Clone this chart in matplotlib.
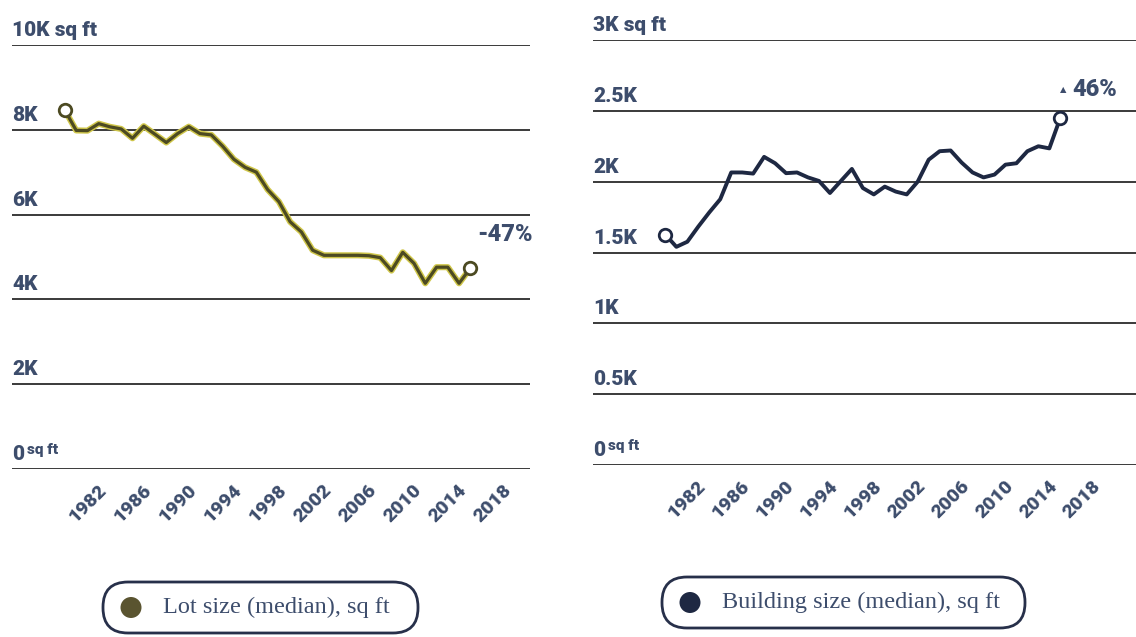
# Lot size vs building size, two small line panels side by side
import matplotlib
matplotlib.use('Agg')
import matplotlib.pyplot as plt
from matplotlib.patches import FancyBboxPatch, Circle
from matplotlib.transforms import offset_copy

years = list(range(1980, 2017))

lot_size = [8460, 7985, 7980, 8145, 8070, 8020, 7800, 8085, 7895, 7700,
            7910, 8075, 7910, 7880, 7615, 7305, 7115, 7000, 6590, 6305,
            5830, 5590, 5160, 5040, 5040, 5040, 5040, 5030, 4985, 4680,
            5110, 4850, 4380, 4760, 4760, 4380, 4735]

building_size = [1626, 1540, 1576, 1683, 1783, 1876, 2065, 2065, 2057, 2175,
                 2130, 2060, 2065, 2030, 2005, 1920, 2005, 2090, 1955, 1910,
                 1965, 1930, 1910, 2000, 2155, 2215, 2220, 2135, 2065, 2030,
                 2050, 2120, 2130, 2215, 2250, 2235, 2450]

lot_ticks = [0, 2000, 4000, 6000, 8000, 10000]
lot_tick_labels = ['0', '2K', '4K', '6K', '8K', '10K']
building_ticks = [0, 500, 1000, 1500, 2000, 2500, 3000]
building_tick_labels = ['0', '0.5K', '1K', '1.5K', '2K', '2.5K', '3K']
year_ticks = list(range(1982, 2019, 4))

lot_change = '-47%'
building_change = '46%'
lot_legend = 'Lot size (median), sq ft'
building_legend = 'Building size (median), sq ft'

TEXT = '#3d4d6c'
GRID = '#3a3a3a'
LOT_DARK = '#4c4a22'
LOT_EDGE = '#cfc64a'
BUILDING = '#1e2842'
BOLD_FONT = ['Roboto', 'DejaVu Sans']
SERIF_FONT = ['Liberation Serif', 'DejaVu Serif']
BOLD = 'heavy'

fig = plt.figure(figsize=(11.36, 6.37), dpi=100)
fig.patch.set_facecolor('white')


def setup_panel(ax, ticks, labels, xlim):
    ax.set_xlim(*xlim)
    ax.set_ylim(ticks[0], ticks[-1])
    for s in ax.spines.values():
        s.set_visible(False)
    ax.set_yticks([])
    for t in ticks:
        ax.axhline(t, color=GRID, lw=1.4, zorder=1)

    # tick labels sit on top of each gridline, left aligned
    trans = offset_copy(ax.get_yaxis_transform(), fig=fig, x=0, y=5, units='dots')
    for t, lab in zip(ticks, labels):
        txt = lab + ' sq ft' if t == ticks[-1] else lab
        ax.text(0, t, txt, transform=trans, ha='left', va='bottom',
                fontsize=15, fontweight=BOLD, color=TEXT, family=BOLD_FONT)
    unit = offset_copy(ax.get_yaxis_transform(), fig=fig, x=15, y=12, units='dots')
    ax.text(0, ticks[0], 'sq ft', transform=unit, ha='left', va='bottom',
            fontsize=11, fontweight=BOLD, color=TEXT, family=BOLD_FONT)

    ax.set_xticks(year_ticks)
    ax.set_xticklabels([str(y) for y in year_ticks], rotation=45, ha='center',
                       fontsize=14, fontweight=BOLD, color=TEXT, family=BOLD_FONT)
    ax.tick_params(axis='x', length=0, pad=9)


def legend_pill(x, y, w, h, dot_color, label):
    pill = FancyBboxPatch((x, y), w, h, boxstyle='round,pad=0,rounding_size=0.25',
                          transform=fig.dpi_scale_trans, fill=False,
                          edgecolor='#27304a', lw=2)
    fig.add_artist(pill)
    fig.add_artist(Circle((x + 0.28, y + h / 2), 0.105, transform=fig.dpi_scale_trans,
                          facecolor=dot_color, edgecolor='none'))
    fig.text(x + 0.6, y + h / 2, label, transform=fig.dpi_scale_trans,
             ha='left', va='center', fontsize=17.5, color=TEXT, family=SERIF_FONT)


# left panel: lot size
ax1 = fig.add_axes([12 / 1136, 1 - 469 / 637, 518 / 1136, 424 / 637])
setup_panel(ax1, lot_ticks, lot_tick_labels, (1975.3, 2021.3))
ax1.plot(years, lot_size, color=LOT_EDGE, lw=4.4, zorder=3, solid_joinstyle='round')
ax1.plot(years, lot_size, color=LOT_DARK, lw=2.3, zorder=4, solid_joinstyle='round')
ax1.plot([years[0], years[-1]], [lot_size[0], lot_size[-1]], 'o', ms=9,
         mfc='white', mec=LOT_DARK, mew=2, zorder=5)
ax1.annotate(lot_change, (years[-1], lot_size[-1]), xytext=(7, 34),
             textcoords='offset pixels', ha='left', va='center',
             fontsize=17, fontweight=BOLD, color=TEXT, family=BOLD_FONT)

# right panel: building size
ax2 = fig.add_axes([593 / 1136, 1 - 465 / 637, 543 / 1136, 425 / 637])
setup_panel(ax2, building_ticks, building_tick_labels, (1973.4, 2022.9))
ax2.plot(years, building_size, color=BUILDING, lw=2.8, zorder=4, solid_joinstyle='round')
ax2.plot([years[0], years[-1]], [building_size[0], building_size[-1]], 'o', ms=9,
         mfc='white', mec=BUILDING, mew=2, zorder=5)
ax2.annotate('\u25b2', (years[-1], building_size[-1]), xytext=(3, 28),
             textcoords='offset pixels', ha='center', va='center',
             fontsize=6, color=TEXT, family=['DejaVu Sans'])
ax2.annotate(building_change, (years[-1], building_size[-1]), xytext=(12, 28),
             textcoords='offset pixels', ha='left', va='center',
             fontsize=17, fontweight=BOLD, color=TEXT, family=BOLD_FONT)

legend_pill(1.03, 0.04, 3.15, 0.51, '#5a5430', lot_legend)
legend_pill(6.62, 0.09, 3.63, 0.51, BUILDING, building_legend)

fig.savefig('out.png', dpi=100)
